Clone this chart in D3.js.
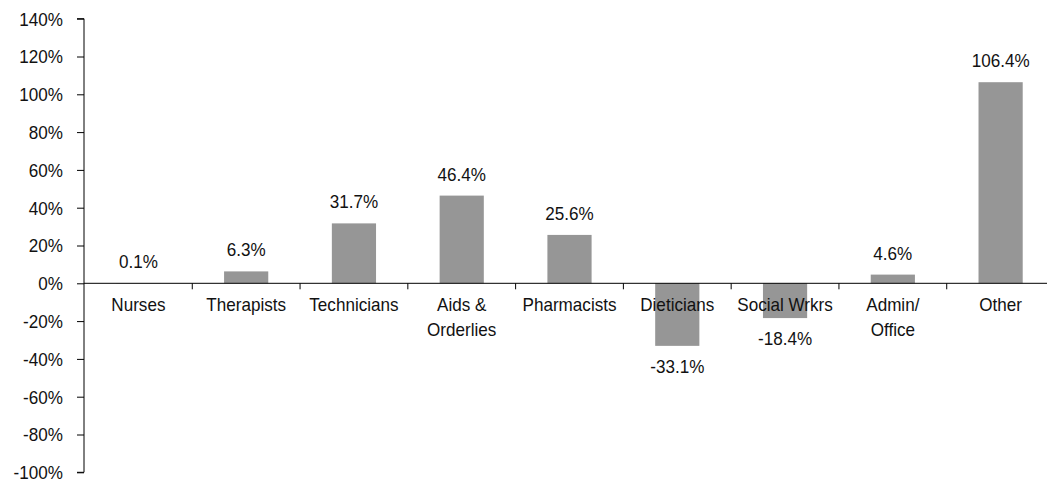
<!DOCTYPE html>
<html>
<head>
<meta charset="utf-8">
<script src="https://cdn.jsdelivr.net/npm/d3@7/dist/d3.min.js"></script>
<style>
  html, body { margin: 0; padding: 0; background: #fff; }
  svg text { font-family: "Liberation Sans", Arial, sans-serif; fill: #111; }
</style>
</head>
<body>
<svg id="chart" width="1047" height="481"></svg>
<script>
// Staffing change by occupation group (percent)
const categories = ["Nurses", "Therapists", "Technicians", "Aids &\nOrderlies", "Pharmacists",
                    "Dieticians", "Social Wrkrs", "Admin/\nOffice", "Other"];
const changes = [0.1, 6.3, 31.7, 46.4, 25.6, -33.1, -18.4, 4.6, 106.4];
const yTicks = [-100, -80, -60, -40, -20, 0, 20, 40, 60, 80, 100, 120, 140];

const svg = d3.select("#chart");
const fontSize = 18;
const squeeze = 0.95; // slightly condensed lettering

const y = d3.scaleLinear().domain([-100, 140]).range([472.3, 18.7]);
const x = d3.scaleBand()
  .domain(categories)
  .range([84.5, 1054.5])
  .paddingInner(0.59)
  .paddingOuter(0.295);

const step = x.step();
const x0 = x.range()[0];

// Writes a condensed text element anchored at (cx, cy)
function label(parent, cx, cy, lines, anchor) {
  const t = parent.append("text")
    .attr("transform", `translate(${cx},${cy}) scale(${squeeze},1)`)
    .attr("text-anchor", anchor)
    .attr("font-size", fontSize);
  lines.forEach((line, k) => {
    t.append("tspan").attr("x", 0).attr("dy", k === 0 ? 0 : 25).text(line);
  });
  return t;
}

// Bars
svg.append("g").selectAll("rect")
  .data(changes)
  .join("rect")
  .attr("x", (d, i) => x(categories[i]))
  .attr("width", x.bandwidth())
  .attr("y", d => y(Math.max(0, d)))
  .attr("height", d => Math.abs(y(d) - y(0)))
  .attr("fill", "#969696");

// Value axis
const yAxis = d3.axisLeft(y)
  .tickValues(yTicks)
  .tickSize(7)
  .tickFormat(d => d + "%");
const gy = svg.append("g").attr("transform", "translate(84,0)").call(yAxis);
gy.select(".domain").attr("stroke", "#000").attr("d", `M-7,${y(140)}H0V${y(-100)}H-7`);
gy.selectAll(".tick line").attr("stroke", "#000");
gy.selectAll(".tick text").remove();
gy.selectAll(".tick").each(function(d) {
  label(d3.select(this), -21, 6.3, [d + "%"], "end");
});

// Category axis along zero line
svg.append("line")
  .attr("x1", 84).attr("x2", 1054.5)
  .attr("y1", y(0)).attr("y2", y(0))
  .attr("stroke", "#000");
svg.append("g").selectAll("line")
  .data(d3.range(1, categories.length + 1))
  .join("line")
  .attr("x1", i => x0 + i * step).attr("x2", i => x0 + i * step)
  .attr("y1", y(0)).attr("y2", y(0) + 6)
  .attr("stroke", "#000");

// Category labels (may span two lines)
const catG = svg.append("g");
categories.forEach(c => {
  label(catG, x(c) + x.bandwidth() / 2, y(0) + 27.5, c.split("\n"), "middle");
});

// Value labels
const valG = svg.append("g");
changes.forEach((d, i) => {
  const cx = x(categories[i]) + x.bandwidth() / 2;
  const cy = d >= 0 ? y(d) - 15 : y(d) + 27;
  label(valG, cx, cy, [d.toFixed(1) + "%"], "middle");
});
</script>
</body>
</html>
